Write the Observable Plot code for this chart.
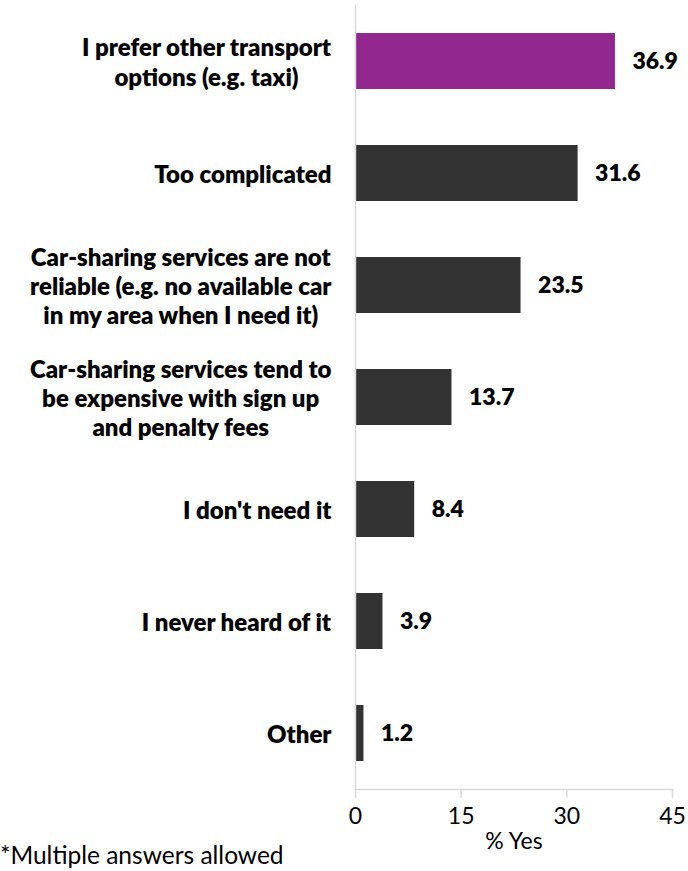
<!DOCTYPE html>
<html>
<head>
<meta charset="utf-8">
<script src="https://cdn.jsdelivr.net/npm/d3@7"></script>
<script src="https://cdn.jsdelivr.net/npm/@observablehq/plot@0.6"></script>
<style>
  body { margin: 0; background: #fff; font-family: Lato, sans-serif; }
  #wrap { position: relative; width: 688px; height: 871px; }
  #caption { position: absolute; left: 0; top: 841px; font-size: 24.5px; line-height: 28px; color: #000; font-family: Lato, sans-serif; }
</style>
</head>
<body>
<div id="wrap">
  <div id="chart"></div>
  <div id="caption"></div>
</div>
<script>
const categories = [
  "I prefer other transport\noptions (e.g. taxi)",
  "Too complicated",
  "Car-sharing services are not\nreliable (e.g. no available car\nin my area when I need it)",
  "Car-sharing services tend to\nbe expensive with sign up\nand penalty fees",
  "I don't need it",
  "I never heard of it",
  "Other"
];
const values = [36.9, 31.6, 23.5, 13.7, 8.4, 3.9, 1.2];
const barColors = ["#92278F", "#333333", "#333333", "#333333", "#333333", "#333333", "#333333"];
const xTicks = [0, 15, 30, 45];
const xLabel = "% Yes";
const captionText = "*Multiple answers allowed";

document.getElementById("caption").textContent = captionText;

const data = categories.map((c, i) => ({cat: c, value: values[i], color: barColors[i]}));

const labelSize = 24;
const labelWeight = 800;
const ctx = document.createElement("canvas").getContext("2d");
ctx.font = `${labelWeight} ${labelSize}px Lato`;
const blockWidth = c => d3.max(c.split("\n"), l => ctx.measureText(l).width);

const labelMarks = data.map(d =>
  Plot.text([d], {
    y: "cat",
    text: "cat",
    frameAnchor: "left",
    textAnchor: "middle",
    dx: -(24 + blockWidth(d.cat) / 2),
    fontSize: labelSize,
    fontWeight: labelWeight,
    lineHeight: 1.22,
    fill: "#000"
  })
);

const chart = Plot.plot({
  width: 688,
  height: 871,
  marginLeft: 355,
  marginRight: 16,
  marginTop: 5,
  marginBottom: 82,
  style: {fontFamily: "Lato, sans-serif", background: "white", color: "#000"},
  x: {domain: [0, 45]},
  y: {domain: categories, paddingInner: 0.5, paddingOuter: 0.25, axis: null},
  color: {type: "identity"},
  marks: [
    Plot.barX(data, {x: "value", y: "cat", fill: "color"}),
    Plot.ruleX([0], {stroke: "#d9d9d9", strokeWidth: 1.5}),
    Plot.frame({anchor: "bottom", stroke: "#d9d9d9", strokeWidth: 1.5}),
    Plot.axisX({ticks: xTicks, tickSize: 9, stroke: "#d9d9d9", strokeWidth: 1.5, tickFormat: () => "", label: null}),
    Plot.text(xTicks, {x: d => d, frameAnchor: "bottom", dy: 34, text: d => String(d), fontSize: 23, fill: "#000"}),
    Plot.text([xLabel], {frameAnchor: "bottom", dy: 59, text: d => d, fontSize: 23, fill: "#000"}),
    Plot.text(data, {x: "value", y: "cat", text: d => d.value.toFixed(1), textAnchor: "start", dx: 17, fontSize: 23, fontWeight: labelWeight, fill: "#000"}),
    ...labelMarks
  ]
});
document.getElementById("chart").appendChild(chart);
</script>
</body>
</html>
